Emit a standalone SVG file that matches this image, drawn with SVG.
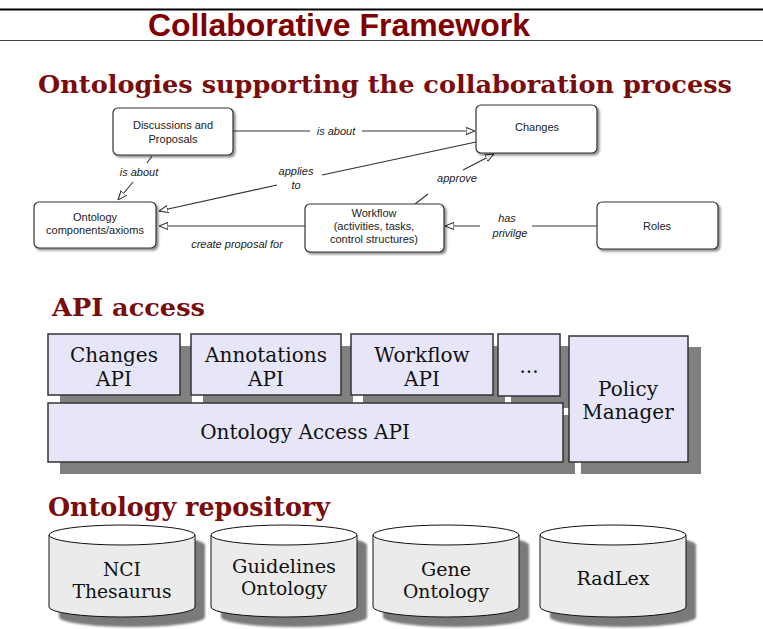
<svg xmlns="http://www.w3.org/2000/svg" width="763" height="629" viewBox="0 0 763 629">
<defs>
<style>
.title{font-family:"Liberation Sans",Arial,sans-serif;font-weight:bold;fill:#800000}
.head{font-family:"DejaVu Serif",serif;font-weight:bold;fill:#7a0c0c}
.nd{fill:#fff;stroke:#333;stroke-width:1.2}
.nt{font-family:"Liberation Sans",Arial,sans-serif;font-size:11px;fill:#222;text-anchor:middle}
.el{font-family:"Liberation Sans",Arial,sans-serif;font-size:11px;font-style:italic;fill:#222;text-anchor:middle}
.ed{fill:none;stroke:#333;stroke-width:1.1}
.api{fill:#e6e6f8;stroke:#333;stroke-width:1.5}
.sh{fill:#808080}
.at{font-family:"DejaVu Serif",serif;font-size:20px;fill:#111;text-anchor:middle}
.cyb{fill:#ebebeb;stroke:#111;stroke-width:1}
.cyt{fill:#fff;stroke:#111;stroke-width:1}
.cysh{fill:#7a7a7a}
.ct{font-family:"DejaVu Serif",serif;font-size:18px;fill:#111;text-anchor:middle}
</style>
<marker id="arr" viewBox="0 0 10 10" refX="10" refY="5" markerWidth="9" markerHeight="9" markerUnits="userSpaceOnUse" orient="auto">
<path d="M0,1 L10,5 L0,9 z" fill="#fff" stroke="#333" stroke-width="1.2"/>
</marker>
<filter id="ds" x="-10%" y="-10%" width="130%" height="140%">
<feGaussianBlur in="SourceAlpha" stdDeviation="1.2"/>
<feOffset dx="1.5" dy="2" result="b"/>
<feComponentTransfer><feFuncA type="linear" slope="0.45"/></feComponentTransfer>
<feMerge><feMergeNode/><feMergeNode in="SourceGraphic"/></feMerge>
</filter>
<filter id="bl"><feGaussianBlur stdDeviation="1"/></filter>
</defs>
<rect width="763" height="629" fill="#fff"/>

<g id="header">
<line x1="0" y1="9.5" x2="763" y2="9.5" stroke="#000" stroke-width="2"/>
<line x1="0" y1="40.5" x2="763" y2="40.5" stroke="#444" stroke-width="1"/>
<text class="title" x="339" y="36" font-size="31" text-anchor="middle" textLength="382" lengthAdjust="spacingAndGlyphs">Collaborative Framework</text>
<text class="head" x="38" y="93" font-size="25" textLength="694" lengthAdjust="spacingAndGlyphs">Ontologies supporting the collaboration process</text>
</g>

<g id="connectors">
<path class="ed" d="M233,131 L310,131"/>
<path class="ed" d="M362,131 L475,131" marker-end="url(#arr)"/>
<text class="el" x="336" y="135">is about</text>
<path class="ed" d="M152,156 L147,163"/>
<path class="ed" d="M133,182 L118,200" marker-end="url(#arr)"/>
<text class="el" x="139" y="176">is about</text>
<path class="ed" d="M476,142 L322,175"/>
<path class="ed" d="M277,185 L159,211" marker-end="url(#arr)"/>
<text class="el" x="296" y="175">applies</text>
<text class="el" x="296" y="189">to</text>
<path class="ed" d="M415,204 L428,194"/>
<path class="ed" d="M463,170 L494,154" marker-end="url(#arr)"/>
<text class="el" x="457" y="182">approve</text>
<path class="ed" d="M305,226 L159,226" marker-end="url(#arr)"/>
<text class="el" x="237" y="248">create proposal for</text>
<path class="ed" d="M597,226 L532,226"/>
<path class="ed" d="M480,226 L445,226" marker-end="url(#arr)"/>
<text class="el" x="507" y="222">has</text>
<text class="el" x="510" y="237">privilge</text>
</g>

<g id="n-discussions">
<rect class="nd" x="113" y="108" width="120" height="47" rx="5" filter="url(#ds)"/>
<text class="nt" x="173" y="129">Discussions and</text>
<text class="nt" x="173" y="143">Proposals</text>
</g>
<g id="n-changes">
<rect class="nd" x="476" y="105" width="121" height="48" rx="5" filter="url(#ds)"/>
<text class="nt" x="537" y="131">Changes</text>
</g>
<g id="n-ontology">
<rect class="nd" x="34" y="202" width="122" height="46" rx="5" filter="url(#ds)"/>
<text class="nt" x="95" y="221">Ontology</text>
<text class="nt" x="95" y="234">components/axioms</text>
</g>
<g id="n-workflow">
<rect class="nd" x="305" y="204" width="139" height="48" rx="5" filter="url(#ds)"/>
<text class="nt" x="374" y="217">Workflow</text>
<text class="nt" x="374" y="230">(activities, tasks,</text>
<text class="nt" x="374" y="243">control structures)</text>
</g>
<g id="n-roles">
<rect class="nd" x="597" y="202" width="121" height="47" rx="5" filter="url(#ds)"/>
<text class="nt" x="657" y="230">Roles</text>
</g>

<g id="api-heading">
<text class="head" x="52" y="316" font-size="25" textLength="153" lengthAdjust="spacingAndGlyphs">API access</text>
</g>
<g id="changes-api">
<rect class="sh" x="60" y="346" width="132" height="61"/>
<rect class="api" x="48" y="334" width="132" height="61"/>
<text class="at" x="114" y="362">Changes</text>
<text class="at" x="114" y="386">API</text>
</g>
<g id="annotations-api">
<rect class="sh" x="203" y="346" width="150" height="61"/>
<rect class="api" x="191" y="334" width="150" height="61"/>
<text class="at" x="266" y="362">Annotations</text>
<text class="at" x="266" y="386">API</text>
</g>
<g id="workflow-api">
<rect class="sh" x="363" y="346" width="142" height="61"/>
<rect class="api" x="351" y="334" width="142" height="61"/>
<text class="at" x="422" y="362">Workflow</text>
<text class="at" x="422" y="386">API</text>
</g>
<g id="more-api">
<rect class="sh" x="511" y="346" width="62" height="62"/>
<rect class="api" x="498" y="334" width="62" height="62"/>
<text class="at" x="529" y="373">...</text>
</g>
<g id="ontology-access-api">
<rect class="sh" x="60" y="415" width="515" height="59"/>
<rect class="api" x="48" y="403" width="515" height="59"/>
<text class="at" x="305" y="439">Ontology Access API</text>
</g>
<g id="policy-manager">
<rect class="sh" x="581" y="347" width="120" height="127"/>
<rect class="api" x="569" y="336" width="119" height="126"/>
<text class="at" x="628" y="396">Policy</text>
<text class="at" x="628" y="419">Manager</text>
</g>

<g id="repo-heading">
<text class="head" x="48" y="516" font-size="26" textLength="282" lengthAdjust="spacingAndGlyphs">Ontology repository</text>
</g>
<g id="nci">
<path class="cysh" filter="url(#bl)" d="M59,545 A73,10 0 0 1 205,545 L205,617 A73,10 0 0 1 59,617 Z"/>
<path class="cyb" d="M49,535 L49,607 A73,10 0 0 0 195,607 L195,535 Z"/>
<ellipse class="cyt" cx="122" cy="535" rx="73" ry="10"/>
<text class="ct" x="122" y="576" textLength="38" lengthAdjust="spacingAndGlyphs">NCI</text>
<text class="ct" x="122" y="598" textLength="99" lengthAdjust="spacingAndGlyphs">Thesaurus</text>
</g>
<g id="guidelines">
<path class="cysh" filter="url(#bl)" d="M221,545 A73,10 0 0 1 367,545 L367,617 A73,10 0 0 1 221,617 Z"/>
<path class="cyb" d="M211,535 L211,607 A73,10 0 0 0 357,607 L357,535 Z"/>
<ellipse class="cyt" cx="284" cy="535" rx="73" ry="10"/>
<text class="ct" x="284" y="573" textLength="104" lengthAdjust="spacingAndGlyphs">Guidelines</text>
<text class="ct" x="284" y="595" textLength="86" lengthAdjust="spacingAndGlyphs">Ontology</text>
</g>
<g id="gene">
<path class="cysh" filter="url(#bl)" d="M383,545 A73,10 0 0 1 529,545 L529,617 A73,10 0 0 1 383,617 Z"/>
<path class="cyb" d="M373,535 L373,607 A73,10 0 0 0 519,607 L519,535 Z"/>
<ellipse class="cyt" cx="446" cy="535" rx="73" ry="10"/>
<text class="ct" x="446" y="576" textLength="50" lengthAdjust="spacingAndGlyphs">Gene</text>
<text class="ct" x="446" y="598" textLength="86" lengthAdjust="spacingAndGlyphs">Ontology</text>
</g>
<g id="radlex">
<path class="cysh" filter="url(#bl)" d="M550,545 A73,10 0 0 1 696,545 L696,617 A73,10 0 0 1 550,617 Z"/>
<path class="cyb" d="M540,535 L540,607 A73,10 0 0 0 686,607 L686,535 Z"/>
<ellipse class="cyt" cx="613" cy="535" rx="73" ry="10"/>
<text class="ct" x="613" y="585" textLength="73" lengthAdjust="spacingAndGlyphs">RadLex</text>
</g>
</svg>
